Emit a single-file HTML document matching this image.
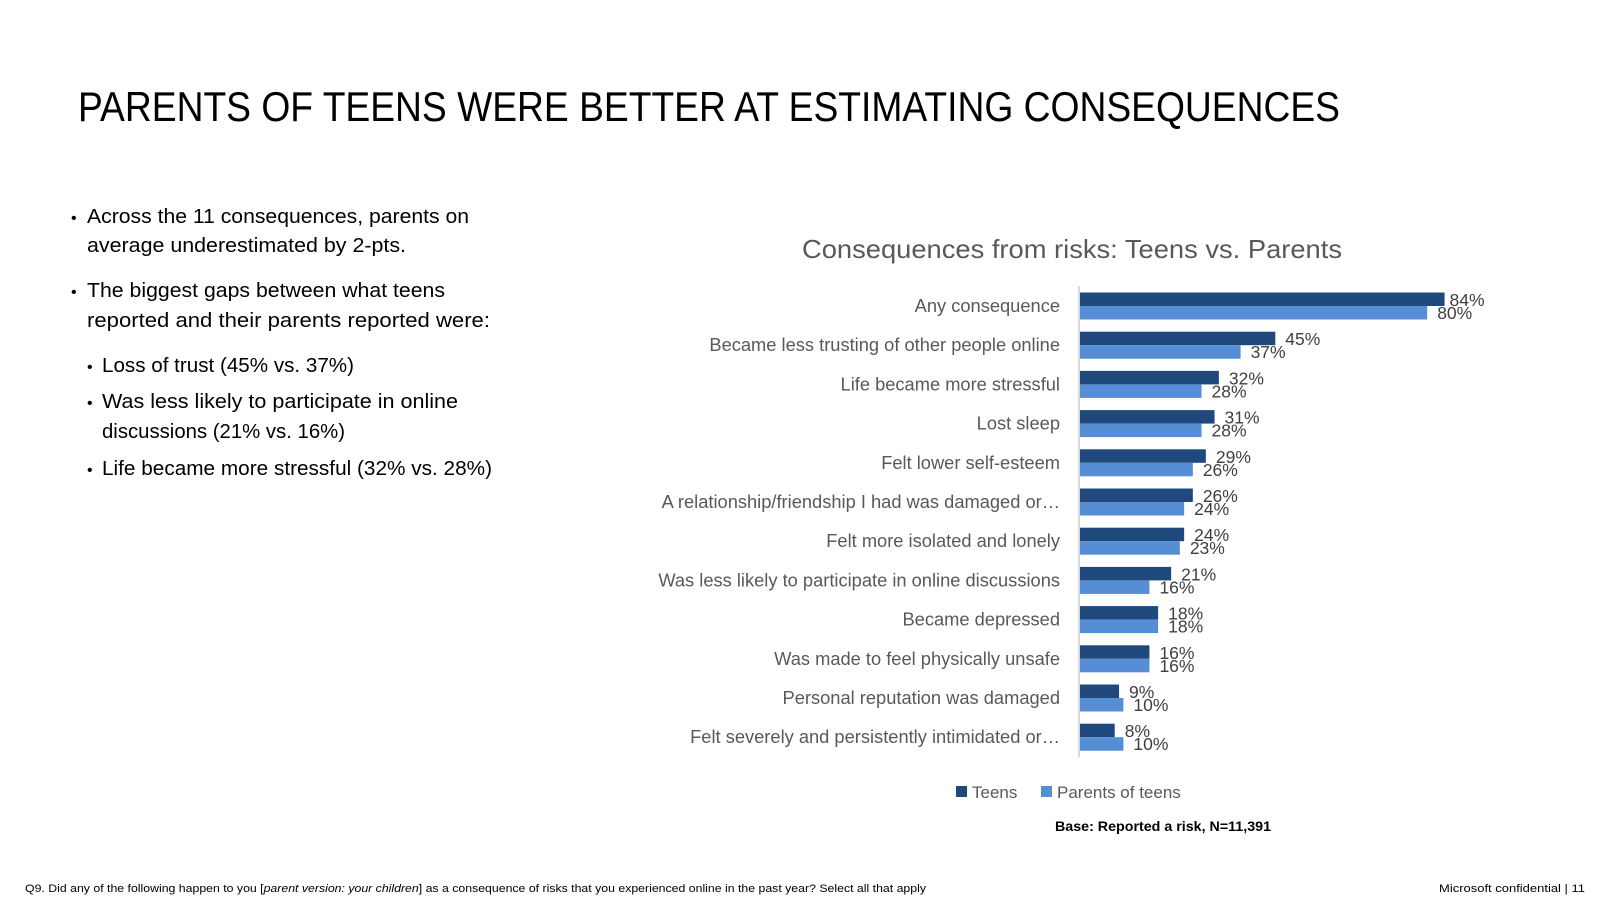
<!DOCTYPE html>
<html><head><meta charset="utf-8"><style>
html,body{margin:0;padding:0;background:#fff;}
svg{display:block;font-family:"Liberation Sans",sans-serif;}
</style></head><body>
<svg id="s" width="1600" height="900" viewBox="0 0 1600 900">
<text x="78" y="121" font-size="42" fill="#000" textLength="1262" lengthAdjust="spacingAndGlyphs">PARENTS OF TEENS WERE BETTER AT ESTIMATING CONSEQUENCES</text>
<g font-size="20" fill="#000">
<text x="71" y="223" font-size="16">•</text>
<text x="87" y="223" textLength="382" lengthAdjust="spacingAndGlyphs">Across the 11 consequences, parents on</text>
<text x="87" y="252" textLength="319" lengthAdjust="spacingAndGlyphs">average underestimated by 2-pts.</text>
<text x="71" y="297" font-size="16">•</text>
<text x="87" y="297" textLength="358" lengthAdjust="spacingAndGlyphs">The biggest gaps between what teens</text>
<text x="87" y="327" textLength="403" lengthAdjust="spacingAndGlyphs">reported and their parents reported were:</text>
<text x="87" y="372" font-size="16">•</text>
<text x="102" y="372" textLength="252" lengthAdjust="spacingAndGlyphs">Loss of trust (45% vs. 37%)</text>
<text x="87" y="408" font-size="16">•</text>
<text x="102" y="408" textLength="356" lengthAdjust="spacingAndGlyphs">Was less likely to participate in online</text>
<text x="102" y="438" textLength="243" lengthAdjust="spacingAndGlyphs">discussions (21% vs. 16%)</text>
<text x="87" y="475" font-size="16">•</text>
<text x="102" y="475" textLength="390" lengthAdjust="spacingAndGlyphs">Life became more stressful (32% vs. 28%)</text>
</g>
<text x="802" y="258" font-size="26" fill="#595959" textLength="540" lengthAdjust="spacingAndGlyphs">Consequences from risks: Teens vs. Parents</text>
<g id="chart"></g>
<g font-size="17" fill="#595959">
<rect x="956" y="786" width="11" height="11" fill="#1f497d"/>
<text x="972" y="798">Teens</text>
<rect x="1041" y="786" width="11" height="11" fill="#558ed5"/>
<text x="1057" y="798">Parents of teens</text>
</g>
<text x="1055" y="831" font-size="14" font-weight="bold" fill="#000" textLength="216" lengthAdjust="spacingAndGlyphs">Base: Reported a risk, N=11,391</text>
<text x="25" y="892" font-size="11" fill="#000" textLength="901" lengthAdjust="spacingAndGlyphs">Q9. Did any of the following happen to you [<tspan font-style="italic">parent version: your children</tspan>] as a consequence of risks that you experienced online in the past year? Select all that apply</text>
<text x="1439" y="892" font-size="11" fill="#000" textLength="146" lengthAdjust="spacingAndGlyphs">Microsoft confidential | 11</text>
</svg>
<script>
const categories = ["Any consequence","Became less trusting of other people online","Life became more stressful","Lost sleep","Felt lower self-esteem","A relationship/friendship I had was damaged or…","Felt more isolated and lonely","Was less likely to participate in online discussions","Became depressed","Was made to feel physically unsafe","Personal reputation was damaged","Felt severely and persistently intimidated or…"];
const teens = [84,45,32,31,29,26,24,21,18,16,9,8];
const parents = [80,37,28,28,26,24,23,16,18,16,10,10];

const NS = "http://www.w3.org/2000/svg";
const g = document.getElementById('chart');
const x0 = 1080, pxPer = 4.34, y0 = 306, step = 39.2, bh = 13.5;
const xScale = v => x0 + v * pxPer;
const yCenter = i => y0 + i * step;
function mk(tag, attrs){ const e = document.createElementNS(NS, tag); for (const k in attrs) e.setAttribute(k, attrs[k]); g.appendChild(e); return e; }
categories.forEach((c, i) => {
  const cy = yCenter(i);
  const lab = mk('text', {x: 1060, y: cy + 6, 'font-size': 18.3, fill: '#595959', 'text-anchor': 'end'});
  lab.textContent = c;
  
  
  const b1 = mk('rect', {x: x0, y: cy - bh, width: xScale(teens[i]) - x0, height: bh, fill: '#1f497d'});
  
  
  const b2 = mk('rect', {x: x0, y: cy, width: xScale(parents[i]) - x0, height: bh, fill: '#558ed5'});
  
  
  const t1 = mk('text', {x: xScale(teens[i]) + (i === 0 ? 5 : 10), y: cy, 'font-size': 17.5, fill: '#404040'});
  t1.textContent = teens[i] + '%';
  
  
  const t2 = mk('text', {x: xScale(parents[i]) + 10, y: cy + 13, 'font-size': 17.5, fill: '#404040'});
  t2.textContent = parents[i] + '%';
  
  
});
const ax = mk('line', {x1: x0 - 1, x2: x0 - 1, y1: y0 - 20, y2: yCenter(categories.length - 1) + 20, stroke: '#d9d9d9', 'stroke-width': 2});


</script>
</body></html>
